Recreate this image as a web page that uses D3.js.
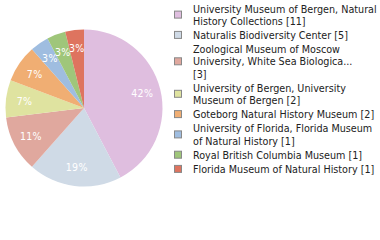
<!DOCTYPE html>
<html>
<head>
<meta charset="utf-8">
<script src="https://cdn.jsdelivr.net/npm/d3@7"></script>
<style>
  body { margin: 0; background: #fff; }
  svg { display: block; }
  .legend text { font-family: "DejaVu Sans Condensed", "DejaVu Sans", sans-serif; font-size: 10.7px; fill: #222; }
  .slice-label { font-family: "DejaVu Sans Condensed", "DejaVu Sans", sans-serif; font-size: 10.5px; fill: #fff; letter-spacing: 0.3px; }
</style>
</head>
<body>
<svg id="chart" width="380" height="240"></svg>
<script>
// legend lines per category, already wrapped/truncated as in the picture
const categories = [
    ["University Museum of Bergen, Natural", "History Collections [11]"],
    ["Naturalis Biodiversity Center [5]"],
    ["Zoological Museum of Moscow", "University, White Sea Biologica...", "[3]"],
    ["University of Bergen, University", "Museum of Bergen [2]"],
    ["Goteborg Natural History Museum [2]"],
    ["University of Florida, Florida Museum", "of Natural History [1]"],
    ["Royal British Columbia Museum [1]"],
    ["Florida Museum of Natural History [1]"]
];
const counts = [11, 5, 3, 2, 2, 1, 1, 1];
const colors = ["#dfbedf", "#cfdae6", "#e0a89e", "#dfe3a0", "#f0ae73", "#9fbde0", "#9fc67a", "#de745f"];

const CX = 84, CY = 108, R = 78.5;
const LABEL_R = 60;

const svg = d3.select("#chart");
const total = d3.sum(counts);

const pie = d3.pie()
    .value(d => d.count)
    .sort(null);

const arc = d3.arc()
    .innerRadius(0)
    .outerRadius(R);

const labelArc = d3.arc()
    .innerRadius(LABEL_R)
    .outerRadius(LABEL_R);

const data = counts.map((c, i) => ({count: c, color: colors[i], lines: categories[i]}));

let g = svg.append("g")
    .attr("transform", `translate(${CX},${CY})`);

g.selectAll("path")
    .data(pie(data))
    .join("path")
    .attr("d", arc)
    .attr("fill", d => d.data.color);

g.selectAll("text")
    .data(pie(data))
    .join("text")
    .attr("class", "slice-label")
    .attr("text-anchor", "middle")
    .attr("dy", "0.36em")
    .attr("transform", d => `translate(${labelArc.centroid(d)})`)
    .text(d => Math.floor(100 * d.data.count / total) + "%");

// legend
const LINE_H = 12.2;
const GAP = 2;
const TEXT_X = 193;
let y0 = 12.5;

let legend = svg.append("g").attr("class", "legend");

data.forEach(function(d) {
    const n = d.lines.length;
    const item = legend.append("g");

    item.selectAll("text")
	.data(d.lines)
	.join("text")
	.attr("x", TEXT_X)
	.attr("y", (t, i) => y0 + i * LINE_H)
	.text(t => t);

    // square centred on the block of lines
    const mid = y0 + (n - 1) * LINE_H / 2 - 4;
    item.append("rect")
	.attr("x", 174.5)
	.attr("y", mid - 3.5)
	.attr("width", 7)
	.attr("height", 7)
	.attr("fill", d.color)
	.attr("stroke", "#888")
	.attr("stroke-width", 1);

    y0 += n * LINE_H + GAP;
});
</script>
</body>
</html>
